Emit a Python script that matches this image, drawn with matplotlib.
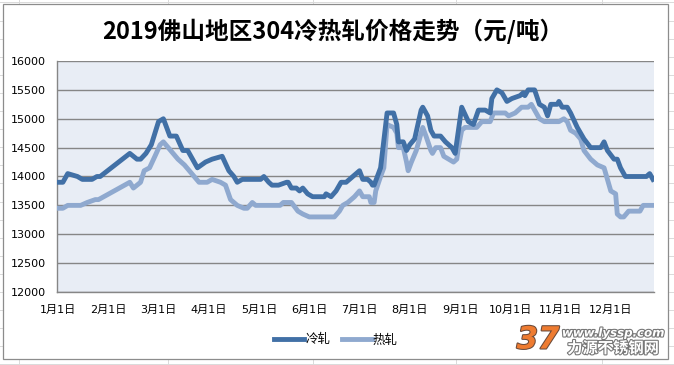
import matplotlib
matplotlib.use("Agg")
import matplotlib.pyplot as plt
import matplotlib.patheffects as pe
from matplotlib.patches import Rectangle
from matplotlib.lines import Line2D

plt.rcParams['font.family'] = ['DejaVu Sans', 'Noto Sans CJK SC']

TITLE = "2019佛山地区304冷热轧价格走势（元/吨）"
MONTH_LABELS = [f"{m}月1日" for m in range(1, 13)]
Y_TICKS = [12000, 12500, 13000, 13500, 14000, 14500, 15000, 15500, 16000]

# 冷轧 (cold rolled), breakpoints
cold_dates = ["01-01", "01-04", "01-07", "01-13", "01-16", "01-22", "01-25", "01-27",
              "02-13", "02-17", "02-19", "02-22", "02-25", "02-27", "03-01", "03-04",
              "03-08", "03-12", "03-16", "03-19", "03-25", "03-30", "04-03", "04-09",
              "04-13", "04-16", "04-18", "04-21", "05-02", "05-04", "05-07", "05-09",
              "05-13", "05-18", "05-19", "05-21", "05-24", "05-26", "05-28", "05-31",
              "06-03", "06-10", "06-11", "06-14", "06-17", "06-20", "06-23", "06-27",
              "07-01", "07-03", "07-06", "07-08", "07-09", "07-10", "07-12", "07-14",
              "07-18", "07-22", "07-24", "07-25", "07-28", "07-30", "08-01", "08-04",
              "08-08", "08-09", "08-12", "08-14", "08-16", "08-20", "08-23", "08-27",
              "08-29", "09-02", "09-06", "09-09", "09-12", "09-16", "09-19", "09-20",
              "09-23", "09-26", "09-29", "10-02", "10-07", "10-09", "10-10", "10-12",
              "10-16", "10-19", "10-22", "10-24", "10-26", "10-30", "10-31", "11-02",
              "11-05", "11-07", "11-11", "11-15", "11-19", "11-25", "11-27", "11-29",
              "12-03", "12-05", "12-07", "12-10", "12-23", "12-25", "12-27"]
cold_prices = [13900, 13900, 14050, 14000, 13950, 13950, 14000, 14000,
               14400, 14300, 14300, 14400, 14550, 14750, 14950, 15000,
               14700, 14700, 14450, 14450, 14150, 14250, 14300, 14350,
               14100, 14000, 13900, 13950, 13950, 14000, 13900, 13850,
               13850, 13900, 13900, 13800, 13800, 13750, 13800, 13700,
               13650, 13650, 13700, 13650, 13750, 13900, 13900, 14000,
               14100, 13950, 13950, 13900, 13850, 13850, 14000, 14150,
               15100, 15100, 14900, 14600, 14600, 14450, 14550, 14650,
               15150, 15200, 15050, 14800, 14700, 14700, 14600, 14500,
               14400, 15200, 14950, 14900, 15150, 15150, 15100, 15350,
               15500, 15450, 15300, 15350, 15400, 15450, 15400, 15500,
               15500, 15250, 15200, 15050, 15250, 15250, 15300, 15200,
               15200, 15100, 14850, 14650, 14500, 14500, 14600, 14450,
               14300, 14300, 14150, 14000, 14000, 14050, 13950]

# 热轧 (hot rolled)
hot_dates = ["01-01", "01-04", "01-07", "01-15", "01-19", "01-24", "01-26", "02-13",
             "02-15", "02-19", "02-21", "02-24", "02-27", "03-02", "03-04", "03-07",
             "03-10", "03-13", "03-17", "03-20", "03-23", "03-26", "03-31", "04-03",
             "04-08", "04-11", "04-14", "04-18", "04-22", "04-24", "04-27", "04-29",
             "05-14", "05-16", "05-21", "05-25", "05-28", "06-01", "06-16", "06-19",
             "06-21", "06-24", "06-28", "07-01", "07-03", "07-07", "07-08", "07-10",
             "07-11", "07-14", "07-16", "07-18", "07-22", "07-24", "07-25", "07-28",
             "07-30", "07-31", "08-02", "08-05", "08-07", "08-09", "08-11", "08-14",
             "08-15", "08-17", "08-20", "08-22", "08-25", "08-28", "08-30", "08-31",
             "09-02", "09-04", "09-11", "09-14", "09-19", "09-21", "09-28", "09-30",
             "10-04", "10-08", "10-12", "10-14", "10-16", "10-19", "10-22", "10-31",
             "11-03", "11-05", "11-07", "11-10", "11-13", "11-15", "11-19", "11-23",
             "11-27", "11-29", "12-01", "12-04", "12-05", "12-07", "12-09", "12-12",
             "12-19", "12-21", "12-23", "12-25", "12-27"]
hot_prices = [13450, 13450, 13500, 13500, 13550, 13600, 13600, 13900,
              13800, 13900, 14100, 14150, 14350, 14550, 14600, 14500,
              14400, 14300, 14200, 14100, 14000, 13900, 13900, 13950,
              13900, 13850, 13600, 13500, 13450, 13450, 13550, 13500,
              13500, 13550, 13550, 13400, 13350, 13300, 13300, 13400,
              13500, 13550, 13650, 13750, 13650, 13650, 13550, 13550,
              13750, 14000, 14150, 14900, 14850, 14750, 14500, 14500,
              14250, 14100, 14250, 14450, 14650, 14850, 14700, 14450,
              14400, 14500, 14500, 14350, 14300, 14250, 14300, 14500,
              14800, 14850, 14850, 14950, 14950, 15100, 15100, 15050,
              15100, 15200, 15200, 15250, 15150, 15000, 14950, 14950,
              15000, 14950, 14800, 14750, 14650, 14450, 14300, 14200,
              14150, 13950, 13750, 13700, 13350, 13300, 13300, 13400,
              13400, 13500, 13500, 13500, 13500]

DAYS = [31, 28, 31, 30, 31, 30, 31, 31, 30, 31, 30, 31]


def month_pos(d):
    """'MM-DD' -> position in months from Jan 1 (each month same width)"""
    m, day = (int(v) for v in d.split("-"))
    return (m - 1) + (day - 1) / DAYS[m - 1]


W, H = 674, 365
fig = plt.figure(figsize=(W / 100, H / 100), dpi=100)

# faint spreadsheet cells behind the chart
for k in range(21):
    y = 2.4 + 18.1 * k
    fig.add_artist(Line2D([0, 1], [1 - y / H] * 2, color="#DADADA", lw=0.7, zorder=-3))
for x in [19, 168, 313, 456, 602]:
    fig.add_artist(Line2D([x / W] * 2, [0, 1], color="#DADADA", lw=0.7, zorder=-3))
fig.add_artist(Rectangle((3 / W, 1 - 359 / H), 665 / W, 355 / H, transform=fig.transFigure,
                         facecolor="white", edgecolor="#8C8C8C", lw=0.9, zorder=-2))

ax = fig.add_axes([57 / W, 1 - 292 / H, 597 / W, 231 / H])
ax.set_facecolor("#E8EDF5")

dark = "#4170A6"
light = "#8FA9CF"
ax.plot([month_pos(d) for d in hot_dates], hot_prices, color=light, lw=3.5,
        solid_joinstyle="round", label="热轧", zorder=3)
ax.plot([month_pos(d) for d in cold_dates], cold_prices, color=dark, lw=3.5,
        solid_joinstyle="round", label="冷轧", zorder=4)

ax.set_ylim(12000, 16000)
ax.set_yticks(Y_TICKS)
ax.set_xlim(-0.02, 11.86)
ax.set_xticks(range(12))
ax.set_xticklabels(MONTH_LABELS)
ax.yaxis.grid(True, color="#868686", lw=1.0)
ax.set_axisbelow(True)
ax.tick_params(axis="both", length=0, labelsize=8, colors="#000000")
ax.tick_params(axis="y", pad=8)
ax.tick_params(axis="x", pad=9)
for s in ["top", "right"]:
    ax.spines[s].set_visible(False)
for s in ["left", "bottom"]:
    ax.spines[s].set_color("#868686")
    ax.spines[s].set_linewidth(1.0)

fig.text(333 / W, 1 - 31 / H, TITLE, ha="center", va="center", fontsize=17,
         fontweight="bold", family=["Noto Sans CJK SC", "DejaVu Sans"])

handles, labels = ax.get_legend_handles_labels()
leg = fig.legend(handles[::-1], labels[::-1], loc="center", bbox_to_anchor=(336 / W, 1 - 340 / H),
                 ncol=2, frameon=False, handlelength=2.4, handletextpad=0.1,
                 columnspacing=0.9, prop={"family": ["Noto Sans CJK SC"], "size": 9})

# watermark in the lower right corner
fig.text(538 / W, 1 - 340 / H, "37", ha="center", va="center", fontsize=22, fontweight="bold",
         style="italic", color="#EE7B30",
         path_effects=[pe.withStroke(linewidth=1.5, foreground="#6A4A3A")])
fig.text(613 / W, 1 - 333 / H, "www.lyssp.com", ha="center", va="center", fontsize=8.5,
         fontweight="bold", style="italic", color="white",
         path_effects=[pe.withStroke(linewidth=1.6, foreground="#777777")])
fig.text(613 / W, 1 - 348 / H, "力源不锈钢网", ha="center", va="center", fontsize=11,
         fontweight="bold", color="white", family=["Noto Sans CJK SC"],
         path_effects=[pe.withStroke(linewidth=1.6, foreground="#777777")])

fig.savefig("out.png", dpi=100)
